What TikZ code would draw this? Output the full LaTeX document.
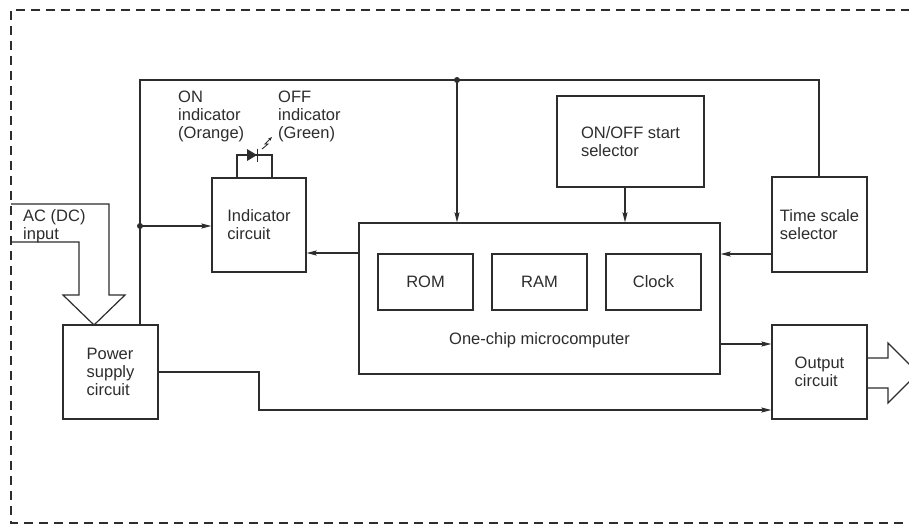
\documentclass[tikz,border=0pt]{standalone}
\usepackage{fontspec}
\setmainfont{Liberation Sans}
\usetikzlibrary{arrows.meta}
\definecolor{ink}{RGB}{45,45,45}
\tikzset{
  blk/.style={draw=ink, line width=1.2pt, inner sep=0pt, align=left, text=ink,
              font=\fontsize{16.5}{18}\selectfont},
  lbl/.style={inner sep=0pt, align=left, text=ink, font=\fontsize{16.5}{18}\selectfont},
  arr/.style={-{Stealth[length=10pt,width=5pt,inset=1.5pt]}, draw=ink, line width=1.2pt},
  wire/.style={draw=ink, line width=1.2pt},
  jdot/.style={circle, fill=ink, inner sep=0pt, minimum size=6pt},
  border/.style={draw=ink, line width=1.3pt, dash pattern=on 9pt off 6pt}
}
\begin{document}
\begin{tikzpicture}[x=1pt, y=-1pt]
\clip (0,0) rectangle (909,525);
\fill[white] (0,0) rectangle (909,525);
% dashed frame
\draw[border] (940,10) -- (11,10) -- (11,523) -- (940,523);

% blocks
\node[blk, minimum width=95, minimum height=94] (ps) at (110.5,372) {Power\\supply\\circuit};
\node[blk, minimum width=94, minimum height=94] (ind) at (259,225) {Indicator\\circuit};
\node[blk, minimum width=147, minimum height=91] (onoff) at (630.5,141.5) {ON/OFF start\\selector};
\node[blk, minimum width=95, minimum height=95] (ts) at (819.5,224.5) {Time scale\\selector};
\node[blk, minimum width=95, minimum height=94] (out) at (819.5,372) {Output\\circuit};
\node[blk, minimum width=361, minimum height=151] (mc) at (539.5,298.5) {};
\node[blk, minimum width=95, minimum height=56] (rom) at (425.5,282) {ROM};
\node[blk, minimum width=95, minimum height=56] (ram) at (539.5,282) {RAM};
\node[blk, minimum width=95, minimum height=56] (clk) at (653.5,282) {Clock};
\node[lbl] (mclbl) at (539.5,340) {One-chip microcomputer};

% labels
\node[lbl, anchor=north west] (onlbl) at (178,91) {ON\\indicator\\(Orange)};
\node[lbl, anchor=north west] (offlbl) at (278,91) {OFF\\indicator\\(Green)};
\node[lbl, anchor=north west] (aclbl) at (23,209) {AC (DC)\\input};

% bus
\coordinate (tl) at (140,80);
\coordinate (tr) at (819,80);
\coordinate (j1) at (457,80);
\coordinate (j2) at (140,226);
\draw[wire] (ps.north -| tl) -- (tl) -- (tr) -- (ts.north -| tr);
\draw[arr] (j1) -- (j1 |- mc.north);
\draw[arr] (j2) -- (j2 -| ind.west);
\node[jdot] at (j1) {};
\node[jdot] at (j2) {};

\coordinate (xo) at (625,0);
\draw[arr] (xo |- onoff.south) -- (xo |- mc.north);

\coordinate (ya) at (0,253);
\coordinate (yb) at (0,254);
\coordinate (yc) at (0,344);
\coordinate (yd) at (259,410);
\draw[arr] (ya -| mc.west) -- (ya -| ind.east);
\draw[arr] (yb -| ts.west) -- (yb -| mc.east);
\draw[arr] (yc -| mc.east) -- (yc -| out.west);
\draw[arr] (ps.east) -| (yd) -- (yd -| out.west);

% LED
\coordinate (la) at (237,155);
\coordinate (lb) at (272,155);
\draw[wire] (la |- ind.north) -- (la) -- (lb) -- (lb |- ind.north);
\fill[ink] (247,149) -- (257,155) -- (247,161) -- cycle;
\draw[wire] (257.5,148.5) -- (257.5,161.5);
\draw[line width=0.9pt, draw=ink, -{Stealth[length=4pt,width=3pt]}] (262,149) -- (268,144) -- (265,144) -- (272,137);

% hollow arrows
\draw[wire, line join=miter] (11,204) -- (109,204) -- (109,295) -- (125,295) -- (94,325) -- (63,295) -- (79,295) -- (79,242) -- (11,242);
\draw[wire, line join=miter] (out.east |- 0,358) -- (888,358) -- (888,343) -- (918,373) -- (888,403) -- (888,388) -- (out.east |- 0,388);
\end{tikzpicture}
\end{document}
